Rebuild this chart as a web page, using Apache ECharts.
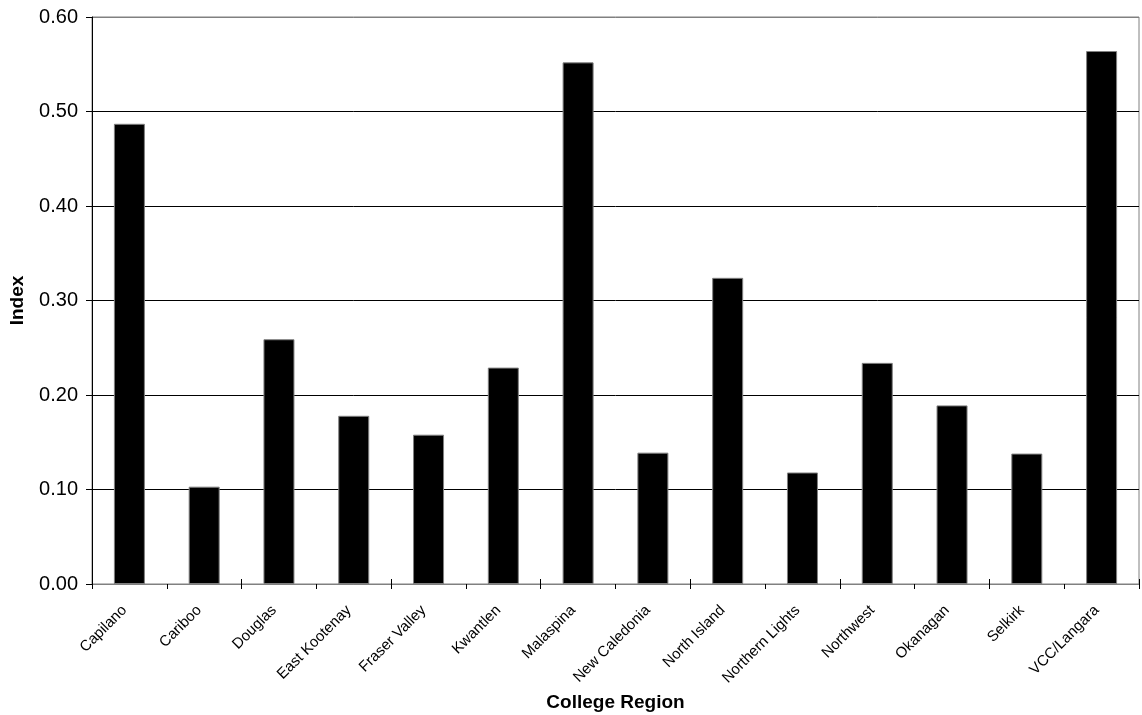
<!DOCTYPE html>
<html>
<head>
<meta charset="utf-8">
<script src="https://cdn.jsdelivr.net/npm/echarts@6/dist/echarts.min.js"></script>
<style>html,body{margin:0;padding:0;background:#fff;}#c{width:1142px;height:715px;}</style>
</head>
<body>
<div id="c"></div>
<script>
const categories = ['Capilano','Cariboo','Douglas','East Kootenay','Fraser Valley','Kwantlen','Malaspina','New Caledonia','North Island','Northern Lights','Northwest','Okanagan','Selkirk','VCC/Langara'];
const indexValues = [0.487, 0.103, 0.259, 0.178, 0.158, 0.229, 0.552, 0.139, 0.324, 0.118, 0.234, 0.189, 0.138, 0.564];
const yMin = 0, yMax = 0.6, yStep = 0.1;

const chart = echarts.init(document.getElementById('c'), null, {renderer: 'canvas'});
const font = 'Liberation Sans, Arial, sans-serif';
chart.setOption({
  animation: false,
  backgroundColor: '#fff',
  grid: {left: 92, right: 3, top: 17, bottom: 131, show: true, borderColor: '#808080', borderWidth: 1, containLabel: false, outerBoundsMode: 'none'},
  xAxis: [{
    type: 'category',
    data: categories,
    name: 'College Region',
    nameLocation: 'middle',
    nameGap: 104,
    nameTextStyle: {fontFamily: font, fontSize: 19, fontWeight: 'bold', color: '#000'},
    axisLine: {show: true, lineStyle: {color: '#808080', width: 1}},
    axisTick: {show: true, length: 5, lineStyle: {color: '#000'}},
    axisLabel: {rotate: 45, fontFamily: font, fontSize: 15, color: '#000', margin: 19, padding: [0, 7, 0, 0], interval: 0},
    splitLine: {show: false}
  }, {
    type: 'category',
    data: categories,
    position: 'bottom',
    axisLine: {show: false},
    axisTick: {show: true, inside: true, length: 5, lineStyle: {color: '#000'}},
    axisLabel: {show: false},
    splitLine: {show: false}
  }],
  yAxis: {
    type: 'value',
    min: yMin, max: yMax, interval: yStep,
    name: 'Index',
    nameLocation: 'middle',
    nameGap: 65,
    nameTextStyle: {fontFamily: font, fontSize: 19, fontWeight: 'bold', color: '#000'},
    axisLine: {show: true, lineStyle: {color: '#000', width: 1}},
    axisTick: {show: true, length: 6, lineStyle: {color: '#000'}},
    axisLabel: {fontFamily: font, fontSize: 20, color: '#000', margin: 14, formatter: v => v.toFixed(2)},
    splitLine: {show: true, lineStyle: {color: ['#808080','#000','#000','#000','#000','#000','#808080'], width: 1}}
  },
  series: [{
    type: 'bar',
    data: indexValues,
    barWidth: 31,
    itemStyle: {color: '#000', borderColor: '#808080', borderWidth: 1}
  }]
});
</script>
</body>
</html>
